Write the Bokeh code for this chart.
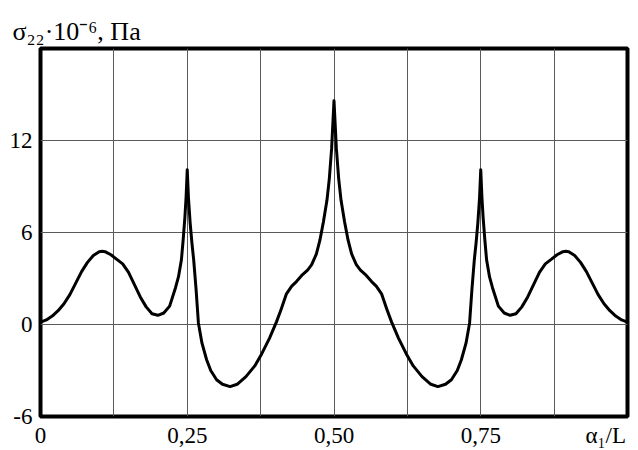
from bokeh.plotting import figure
from bokeh.models import Range1d, FixedTicker, Title
from bokeh.embed import file_html
from bokeh.resources import INLINE

# curve (symmetric about 0.5)
x_vals = [0.0, 0.01, 0.02, 0.03, 0.04, 0.05, 0.06, 0.07, 0.08, 0.09, 0.10, 0.105, 0.11, 0.12, 0.13,
          0.14, 0.15, 0.16, 0.17, 0.18, 0.19, 0.20, 0.21, 0.22, 0.23, 0.235, 0.24, 0.243, 0.246,
          0.248, 0.25, 0.252, 0.255, 0.258, 0.261, 0.265, 0.269, 0.275, 0.283, 0.29, 0.30, 0.31,
          0.323, 0.335, 0.35, 0.365, 0.377, 0.39, 0.402, 0.41, 0.419, 0.428, 0.436, 0.445, 0.455,
          0.462, 0.47, 0.476, 0.482, 0.488, 0.492, 0.496, 0.5,
          0.504, 0.508, 0.512, 0.518, 0.524, 0.53, 0.538, 0.545, 0.555, 0.564, 0.572, 0.581,
          0.59, 0.598, 0.61, 0.623, 0.635, 0.65, 0.665, 0.677, 0.69, 0.70, 0.71, 0.717, 0.725,
          0.731, 0.735, 0.739, 0.742, 0.745, 0.748, 0.75, 0.752, 0.754, 0.757, 0.76, 0.765,
          0.77, 0.78, 0.79, 0.80, 0.81, 0.82, 0.83, 0.84, 0.85, 0.86, 0.87, 0.88, 0.89, 0.895,
          0.90, 0.91, 0.92, 0.93, 0.94, 0.95, 0.96, 0.97, 0.98, 0.99, 1.0]
y_vals = [0.15, 0.3, 0.55, 0.9, 1.35, 1.95, 2.7, 3.45, 4.05, 4.5, 4.75, 4.78, 4.75, 4.55, 4.25,
          3.95, 3.4, 2.6, 1.8, 1.15, 0.7, 0.6, 0.75, 1.2, 2.4, 3.1, 4.2, 5.5, 7.0,
          8.3, 10.1, 8.3, 6.6, 5.3, 4.2, 2.3, 0.1, -1.2, -2.3, -3.0, -3.6, -3.9,
          -4.05, -3.9, -3.4, -2.7, -1.9, -0.9, 0.17, 1.0, 2.0, 2.5, 2.8, 3.2, 3.55,
          3.9, 4.6, 5.5, 6.7, 8.1, 9.5, 11.5, 14.6,
          11.5, 9.5, 8.1, 6.7, 5.5, 4.6, 3.9, 3.55, 3.2, 2.8, 2.5, 2.0,
          1.0, 0.17, -0.9, -1.9, -2.7, -3.4, -3.9, -4.05, -3.9, -3.6, -3.0, -2.3, -1.2,
          0.1, 2.3, 4.2, 5.3, 6.6, 8.3, 10.1, 8.3, 7.0, 5.5, 4.2, 3.1,
          2.4, 1.2, 0.75, 0.6, 0.7, 1.15, 1.8, 2.6, 3.4, 3.95, 4.25, 4.55, 4.75, 4.78,
          4.75, 4.5, 4.05, 3.45, 2.7, 1.95, 1.35, 0.9, 0.55, 0.3, 0.15]

x_ticks = [0, 0.25, 0.5, 0.75, 0.963]
x_tick_labels = ["0", "0,25", "0,50", "0,75", "α\u2081/L"]
x_grid = [0.125, 0.25, 0.375, 0.5, 0.625, 0.75, 0.875]
y_ticks = [-6, 0, 6, 12]
y_tick_labels = ["-6", "0", "6", "12"]
y_grid = [0, 6, 12]
title_text = "σ\u2082\u2082·10\u207B\u2076, Па"

SERIF = "Liberation Serif"

p = figure(width=638, height=450, output_backend="svg", toolbar_location=None,
           x_range=Range1d(0, 1), y_range=Range1d(-6, 18),
           min_border_left=40, min_border_right=11, min_border_top=48, min_border_bottom=34)
p.background_fill_color = "white"
p.border_fill_color = "white"
p.outline_line_color = "black"
p.outline_line_width = 4

p.title = Title(text=title_text, align="left", offset=-28, standoff=6,
                text_font=SERIF, text_font_size="26px", text_font_style="normal",
                text_color="black")

p.xaxis.ticker = FixedTicker(ticks=x_ticks)
p.xaxis.major_label_overrides = {tk: l for tk, l in zip(x_ticks, x_tick_labels)}
p.yaxis.ticker = FixedTicker(ticks=y_ticks)
p.yaxis.major_label_overrides = {tk: l for tk, l in zip(y_ticks, y_tick_labels)}
for ax in (p.xaxis[0], p.yaxis[0]):
    ax.axis_line_color = None
    ax.major_tick_line_color = None
    ax.minor_tick_line_color = None
    ax.major_tick_out = 0
    ax.major_tick_in = 0
    ax.minor_tick_out = 0
    ax.minor_tick_in = 0
    ax.major_label_text_font = SERIF
    ax.major_label_text_font_size = "23px"
    ax.major_label_text_color = "black"
p.xaxis.major_label_standoff = 6
p.yaxis.major_label_standoff = 8

p.xgrid.ticker = FixedTicker(ticks=x_grid)
p.ygrid.ticker = FixedTicker(ticks=y_grid)
for g in (p.xgrid[0], p.ygrid[0]):
    g.grid_line_color = "#5a5a5a"
    g.grid_line_width = 1

p.line(x_vals, y_vals, line_color="black", line_width=3, line_join="round")

with open("out.html", "w") as f:
    f.write(file_html(p, INLINE))
